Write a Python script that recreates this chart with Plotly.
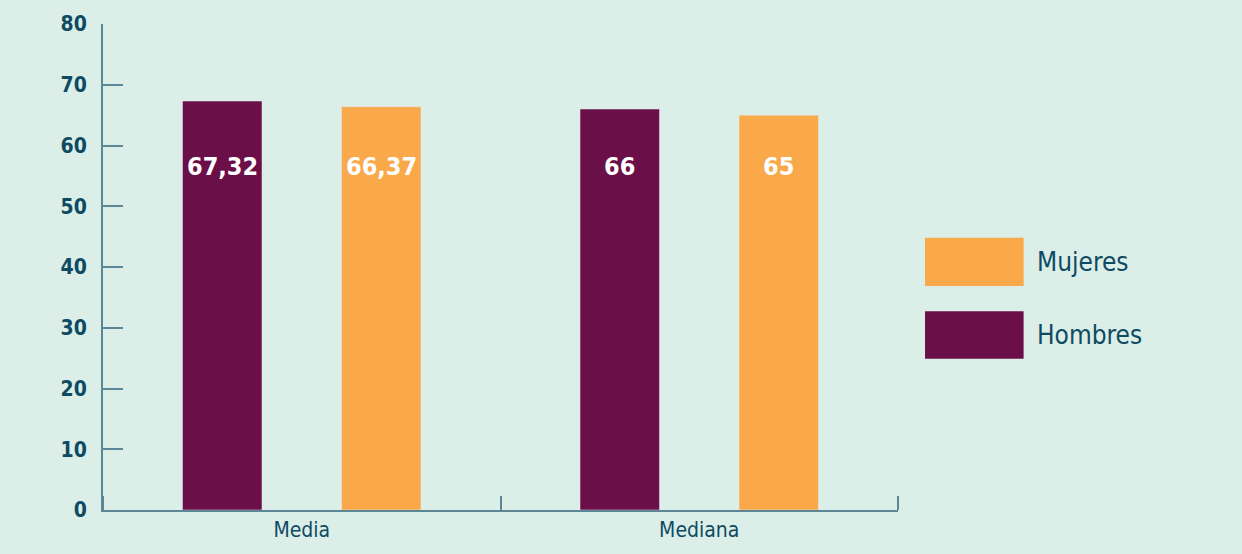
import plotly.graph_objects as go

categories = ["Media", "Mediana"]
hombres = [67.32, 66]
mujeres = [66.37, 65]
hombres_labels = ["67,32", "66"]
mujeres_labels = ["66,37", "65"]
y_ticks = [0, 10, 20, 30, 40, 50, 60, 70, 80]

BG = "#dbeee8"
C_H = "#6b0f48"
C_M = "#f9a84a"
TXT = "#0f4a63"
AX = "#5d8796"
FONT = "DejaVu Sans Condensed, Roboto, Arial"

xpos = list(range(len(categories)))
bounds = [i - 0.5 for i in range(len(categories) + 1)]

fig = go.Figure()
fig.add_bar(x=xpos, y=hombres, name="Hombres", marker_color=C_H, showlegend=False)
fig.add_bar(x=xpos, y=mujeres, name="Mujeres", marker_color=C_M, showlegend=False)

# value labels
for i in xpos:
    for lab, off in ((hombres_labels[i], -0.2), (mujeres_labels[i], 0.2)):
        fig.add_annotation(x=i + off, y=56.5, xref="x", yref="y", text=lab,
                           showarrow=False, font=dict(family=FONT, size=25, color="white", weight="bold"))

# legend
for name, col, y0, y1 in (("Mujeres", C_M, 0.461, 0.560), ("Hombres", C_H, 0.311, 0.409)):
    fig.add_shape(type="rect", xref="paper", yref="paper", x0=1.034, x1=1.158, y0=y0, y1=y1,
                  fillcolor=col, line=dict(width=0))
    fig.add_annotation(xref="paper", yref="paper", x=1.172, y=(y0 + y1) / 2, xanchor="left",
                       yanchor="middle", text=name, showarrow=False,
                       font=dict(family=FONT, size=26, color=TXT))

fig.update_layout(
    width=1242, height=554,
    margin=dict(l=103, r=344, t=24, b=44),
    paper_bgcolor=BG, plot_bgcolor=BG,
    barmode="group", bargap=0.2, bargroupgap=0.5,
    font=dict(family=FONT, color=TXT),
)
fig.update_xaxes(range=[bounds[0], bounds[-1]], showline=True, linecolor=AX, linewidth=2,
                 tickvals=xpos, ticktext=categories, ticks="",
                 minor=dict(tickvals=bounds, ticks="inside", ticklen=14, tickcolor=AX, tickwidth=1.5,
                            showgrid=False),
                 tickfont=dict(family=FONT, size=21, color=TXT), showgrid=False, zeroline=False)
fig.update_yaxes(range=[0, 80], tickvals=y_ticks, showline=True, linecolor=AX, linewidth=2,
                 ticks="inside", ticklen=20, tickcolor=AX, tickwidth=1.5,
                 tickfont=dict(family=FONT, size=21, color=TXT, weight="bold"), ticklabelstandoff=10,
                 showgrid=False, zeroline=False)

fig.write_html("out.html", config={"displayModeBar": False},
               post_script="document.body.style.margin='0';")
